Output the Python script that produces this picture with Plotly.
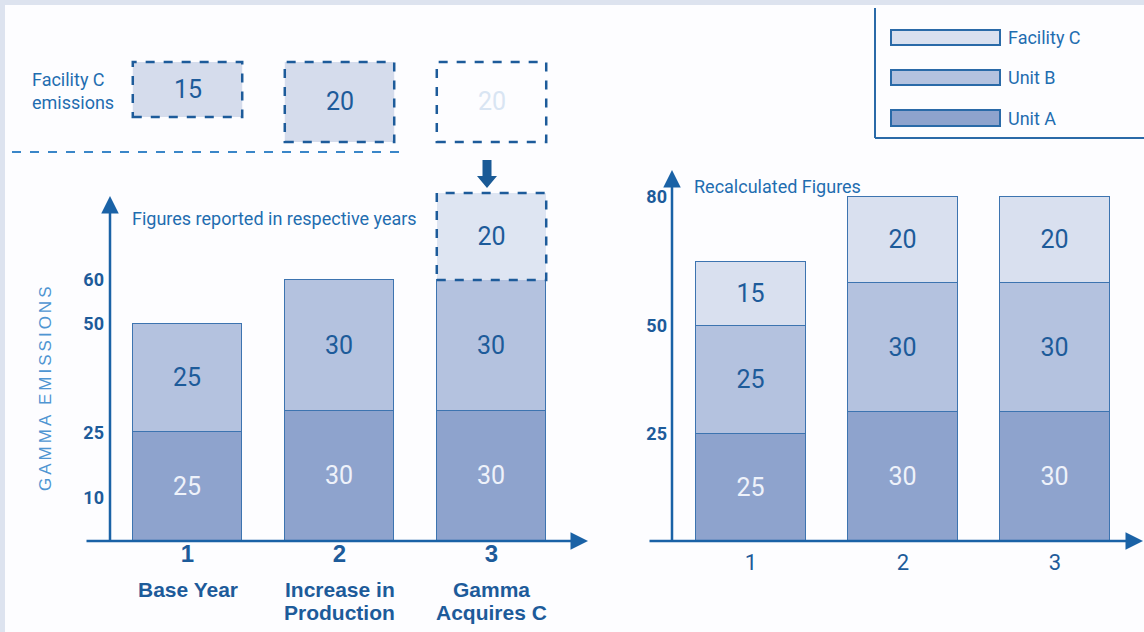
import plotly.graph_objects as go

# ---------------- data ----------------
categories = [1, 2, 3]
stage_labels = ["Base Year", "Increase in<br>Production", "Gamma<br>Acquires C"]
unit_a_reported = [25, 30, 30]
unit_b_reported = [25, 30, 30]
facility_c_reported = [None, None, 20]
unit_a_recalc = [25, 30, 30]
unit_b_recalc = [25, 30, 30]
facility_c_recalc = [15, 20, 20]
facility_c_emissions = [15, 20, 20]
left_y_ticks = [10, 25, 50, 60]
right_y_ticks = [25, 50, 80]
legend_names = ["Facility C", "Unit B", "Unit A"]

# ---------------- style ----------------
W, H = 1144, 632
NARROW = "Roboto, Liberation Sans, sans-serif"
BOLD = "Liberation Sans, Arial, sans-serif"
C_A = "#8ea3cd"
C_B = "#b4c2df"
C_C = "#d9e0ef"
C_C_LEFT = "#dee5f2"
EDGE = "#3d74b0"
DARK = "#1d5b9a"
MID = "#1f6db0"
AXIS = "#1a62a6"
BAR_W = 0.72


def nf(size, color, weight="normal"):
    return dict(family=NARROW, size=size, color=color, weight=weight)


def fx(px):
    return px / W


def fy(py):
    return 1 - py / H


X0_PX = 541  # y=0 pixel row for both charts
L_SCALE, R_SCALE = 4.35, 4.3
L_TOP, R_TOP = 150, 160
STEP = 152.0
L_C1, R_C1 = 187.5, 751.0
L_DOM = (110, 585)
R_DOM = (672, 1140)

fig = go.Figure()


def add_bars(vals, name, color, xa, ya, tcolor, line=True):
    fig.add_trace(go.Bar(
        x=categories, y=vals, name=name, xaxis=xa, yaxis=ya, width=BAR_W,
        marker=dict(color=color, line=dict(color=EDGE, width=1 if line else 0)),
        texttemplate="%{y}", textposition="inside", insidetextanchor="middle",
        textfont=nf(25, tcolor),
        constraintext="none", showlegend=False, hoverinfo="skip"))


add_bars(unit_a_reported, "Unit A", C_A, "x", "y", "#eef2fa")
add_bars(unit_b_reported, "Unit B", C_B, "x", "y", DARK)
add_bars(facility_c_reported, "Facility C", C_C_LEFT, "x", "y", DARK, line=False)
add_bars(unit_a_recalc, "Unit A", C_A, "x2", "y2", "#eef2fa")
add_bars(unit_b_recalc, "Unit B", C_B, "x2", "y2", DARK)
add_bars(facility_c_recalc, "Facility C", C_C, "x2", "y2", DARK)

shapes = []
annotations = []

# page background / border
shapes.append(dict(type="rect", xref="paper", yref="paper", x0=fx(5), x1=1, y0=0, y1=fy(5),
                   fillcolor="#fdfdff", line=dict(width=0), layer="below"))

# dashed outline of facility C bar on the left chart (from data)
for i, v in enumerate(facility_c_reported):
    if v is None:
        continue
    base = unit_a_reported[i] + unit_b_reported[i]
    shapes.append(dict(type="rect", xref="x", yref="y",
                       x0=categories[i] - BAR_W / 2, x1=categories[i] + BAR_W / 2,
                       y0=base, y1=base + v,
                       line=dict(color=DARK, width=2.5, dash="dash")))

# top "Facility C emissions" boxes
box_px = [(62, 117), (62, 142), (62, 142)]
for i, v in enumerate(facility_c_emissions):
    top, bot = box_px[i]
    last = i == len(facility_c_emissions) - 1
    shapes.append(dict(type="rect", xref="x", yref="paper",
                       x0=categories[i] - BAR_W / 2, x1=categories[i] + BAR_W / 2,
                       y0=fy(bot), y1=fy(top),
                       fillcolor="rgba(0,0,0,0)" if last else "#d5dcec",
                       line=dict(color=DARK, width=2.5, dash="dash")))
    annotations.append(dict(x=categories[i], xref="x", y=fy((top + bot) / 2), yref="paper",
                            xanchor="center", yanchor="middle",
                            text=str(v), showarrow=False,
                            font=nf(25, "#d9e5f3" if last else DARK)))

# dashed separator line
shapes.append(dict(type="line", xref="paper", yref="paper", x0=fx(12), x1=fx(405),
                   y0=fy(152), y1=fy(152), line=dict(color="#3a86c8", width=2, dash="dash")))

# legend frame and swatches
shapes.append(dict(type="line", xref="paper", yref="paper", x0=fx(875), x1=fx(875),
                   y0=fy(138), y1=fy(8), line=dict(color="#2a6aa8", width=2)))
shapes.append(dict(type="line", xref="paper", yref="paper", x0=fx(875), x1=1,
                   y0=fy(138), y1=fy(138), line=dict(color="#2a6aa8", width=2)))
leg_rows = [(30, 45), (70, 85), (110, 126)]
leg_cols = [C_C, C_B, C_A]
for (t, b), col, nm in zip(leg_rows, leg_cols, legend_names):
    shapes.append(dict(type="rect", xref="paper", yref="paper", x0=fx(891), x1=fx(1000),
                       y0=fy(b), y1=fy(t), fillcolor=col, line=dict(color="#2a6aa8", width=2)))
    annotations.append(dict(x=fx(1006), y=fy((t + b) / 2), xref="paper", yref="paper",
                            text=nm, showarrow=False, xanchor="left", yanchor="middle",
                            font=nf(18, MID)))


# axis arrows (drawn as arrows)
def arrow(tip, tail, width=2.5, size=1.4, color=AXIS):
    annotations.append(dict(x=fx(tip[0]), y=fy(tip[1]), xref="paper", yref="paper",
                            ax=tail[0] - tip[0], ay=tail[1] - tip[1], axref="pixel", ayref="pixel",
                            text="", showarrow=True, arrowhead=2, arrowsize=size,
                            arrowwidth=width, arrowcolor=color))


arrow((588, X0_PX), (85, X0_PX))
arrow((110, 196), (110, X0_PX + 1))
arrow((1143, X0_PX), (648, X0_PX))
arrow((672, 170), (672, X0_PX + 1))

# thick down arrow (acquisition)
ax_c, sh_w, hd_w = 487, 4.5, 10
pts = [(ax_c - sh_w, 160), (ax_c + sh_w, 160), (ax_c + sh_w, 176), (ax_c + hd_w, 176),
       (ax_c, 188), (ax_c - hd_w, 176), (ax_c - sh_w, 176)]
path = "M " + " L ".join(f"{fx(px):.5f},{fy(py):.5f}" for px, py in pts) + " Z"
shapes.append(dict(type="path", xref="paper", yref="paper", path=path,
                   fillcolor="#1a5a96", line=dict(width=0)))

# texts
annotations.append(dict(x=fx(30), y=fy(91), xref="paper", yref="paper", xanchor="left",
                        yanchor="middle", text="Facility C<br>emissions", showarrow=False,
                        align="left", font=nf(18, MID)))
annotations.append(dict(x=fx(130), y=fy(218), xref="paper", yref="paper", xanchor="left",
                        yanchor="middle", text="Figures reported in respective years",
                        showarrow=False, font=nf(18, MID)))
annotations.append(dict(x=fx(692), y=fy(186), xref="paper", yref="paper", xanchor="left",
                        yanchor="middle", text="Recalculated Figures", showarrow=False,
                        font=nf(18, MID)))
annotations.append(dict(x=fx(45), y=fy(388), xref="paper", yref="paper",
                        xanchor="center", yanchor="middle",
                        text='<span style="letter-spacing:3px">GAMMA EMISSIONS</span>',
                        showarrow=False, textangle=-90,
                        font=dict(family="Liberation Sans, Arial, sans-serif", size=17,
                                  color="#4f95d2")))
for c, lab in zip(categories, stage_labels):
    for k, line_txt in enumerate(lab.split("<br>")):
        annotations.append(dict(x=c, xref="x", y=fy(589 + 23 * k), yref="paper",
                                yanchor="middle", xanchor="center", text=line_txt,
                                showarrow=False,
                                font=dict(family=BOLD, size=21, color=DARK, weight="bold")))


def xrange(c1, dom):
    return [1 - (c1 - dom[0]) / STEP, 1 + (dom[1] - c1) / STEP]


fig.update_layout(
    width=W, height=H, margin=dict(l=0, r=0, t=0, b=0),
    paper_bgcolor="#dde3ef", plot_bgcolor="rgba(0,0,0,0)",
    barmode="stack", bargap=0, showlegend=False,
    shapes=shapes, annotations=annotations,
    xaxis=dict(domain=[fx(L_DOM[0]), fx(L_DOM[1])], range=xrange(L_C1, L_DOM),
               tickvals=categories, ticktext=[str(c) for c in categories],
               tickfont=dict(family=BOLD, size=24, color=DARK, weight="bold"),
               ticks="", ticklabelstandoff=-4,
               showgrid=False, zeroline=False, showline=False, anchor="y"),
    yaxis=dict(domain=[fy(X0_PX), fy(L_TOP)], range=[0, (X0_PX - L_TOP) / L_SCALE],
               tickvals=left_y_ticks, ticktext=[str(v) for v in left_y_ticks],
               tickfont=nf(18, DARK, "bold"), ticklabelstandoff=5,
               ticks="", showgrid=False, zeroline=False, showline=False, anchor="x"),
    xaxis2=dict(domain=[fx(R_DOM[0]), fx(R_DOM[1])], range=xrange(R_C1, R_DOM),
                tickvals=categories, ticktext=[str(c) for c in categories],
                tickfont=nf(22, DARK),
                ticks="outside", ticklen=2, tickcolor="rgba(0,0,0,0)",
                showgrid=False, zeroline=False, showline=False, anchor="y2"),
    yaxis2=dict(domain=[fy(X0_PX), fy(R_TOP)], range=[0, (X0_PX - R_TOP) / R_SCALE],
                tickvals=right_y_ticks, ticktext=[str(v) for v in right_y_ticks],
                tickfont=nf(18, DARK, "bold"), ticklabelstandoff=4,
                ticks="", showgrid=False, zeroline=False, showline=False, anchor="x2"),
)

fig.write_html("out.html")
